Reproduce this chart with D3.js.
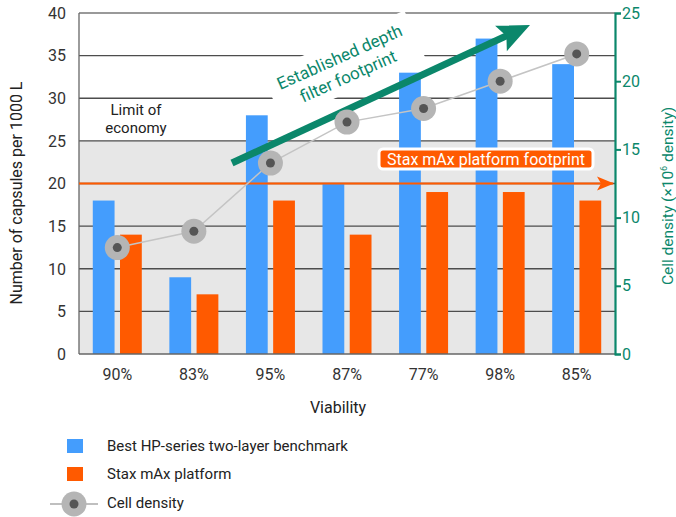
<!DOCTYPE html>
<html>
<head>
<meta charset="utf-8">
<script src="https://cdn.jsdelivr.net/npm/d3@7"></script>
<style>
  body { margin: 0; background: #fff; }
  svg { font-family: Roboto, "Noto Sans", sans-serif; }
</style>
</head>
<body>
<div class="chart"></div>
<script>
// data
var categories = ["90%", "83%", "95%", "87%", "77%", "98%", "85%"];
var benchmark = [18, 9, 28, 20, 33, 37, 34];
var staxMax = [14, 7, 18, 14, 19, 19, 18];
var cellDensity = [7.8, 9, 14, 17, 18, 20, 22];
var leftTicks = [0, 5, 10, 15, 20, 25, 30, 35, 40];
var rightTicks = [0, 5, 10, 15, 20, 25];
var limitOfEconomy = 25;
var staxFootprint = 20;

var colors = { blue: "#449dfd", orange: "#ff5a00", green: "#0b876b", grid: "#4d4d4d" };

var W = 676, H = 517;
var m = { left: 79, right: 615, top: 13, bottom: 354 };
var font = "Roboto, 'Noto Sans', sans-serif";

var svg = d3.select(".chart").append("svg").attr("width", W).attr("height", H);

var x0 = d3.scaleBand().domain(categories).range([m.left, m.right]).paddingInner(0.36).paddingOuter(0.18);
var x1 = d3.scaleBand().domain([0, 1]).range([0, x0.bandwidth()]).paddingInner(0.2);
var y = d3.scaleLinear().domain([0, 40]).range([m.bottom, m.top]);
var y2 = d3.scaleLinear().domain([0, 25]).range([m.bottom, m.top]);

// shaded zone under the limit of economy
svg.append("rect")
  .attr("x", m.left).attr("y", y(limitOfEconomy))
  .attr("width", m.right - m.left).attr("height", y(0) - y(limitOfEconomy))
  .attr("fill", "#e7e7e7");

// gridlines
svg.append("g").selectAll("line").data(leftTicks.slice(1)).enter().append("line")
  .attr("x1", m.left).attr("x2", m.right)
  .attr("y1", d => y(d)).attr("y2", d => y(d))
  .attr("stroke", d => d == 40 ? "#777" : colors.grid).attr("stroke-width", 1.3);

// bars
var groups = svg.append("g").selectAll("g").data(categories).enter().append("g")
  .attr("transform", d => "translate(" + x0(d) + ",0)");
groups.append("rect")
  .attr("x", x1(0)).attr("width", x1.bandwidth())
  .attr("y", (d, i) => y(benchmark[i])).attr("height", (d, i) => y(0) - y(benchmark[i]))
  .attr("fill", colors.blue);
groups.append("rect")
  .attr("x", x1(1)).attr("width", x1.bandwidth())
  .attr("y", (d, i) => y(staxMax[i])).attr("height", (d, i) => y(0) - y(staxMax[i]))
  .attr("fill", colors.orange);

// white box behind the green annotation
var annX = 344, annY = 67, annAngle = -24;
svg.append("rect")
  .attr("x", -78).attr("y", -27).attr("width", 156).attr("height", 52)
  .attr("fill", "#fff")
  .attr("transform", "translate(" + annX + "," + annY + ") rotate(" + annAngle + ")");

// left axis
svg.append("line").attr("x1", m.left).attr("x2", m.left).attr("y1", m.top).attr("y2", m.bottom)
  .attr("stroke", "#666").attr("stroke-width", 1.3);
svg.append("line").attr("x1", m.left).attr("x2", m.right).attr("y1", y(0)).attr("y2", y(0))
  .attr("stroke", "#666").attr("stroke-width", 1.5);
svg.append("g").selectAll("text").data(leftTicks).enter().append("text")
  .attr("x", m.left - 13).attr("y", d => y(d)).attr("dy", "0.36em")
  .attr("text-anchor", "end").attr("font-size", 16).attr("fill", "#333")
  .text(d => d);

// right axis
var rAxis = svg.append("g").attr("transform", "translate(" + m.right + ",0)")
  .call(d3.axisRight(y2).tickValues(rightTicks).tickSize(6).tickPadding(1));
rAxis.select(".domain").attr("stroke", colors.green).attr("stroke-width", 2.2);
rAxis.selectAll(".tick line").attr("stroke", colors.green).attr("stroke-width", 2);
rAxis.selectAll(".tick text").attr("fill", colors.green).attr("font-size", 16)
  .attr("font-family", font);

// x labels
svg.append("g").selectAll("text").data(categories).enter().append("text")
  .attr("x", d => x0(d) + x0.bandwidth() / 2).attr("y", 380)
  .attr("text-anchor", "middle").attr("font-size", 16).attr("fill", "#333")
  .text(d => d);

// axis titles
svg.append("text").attr("x", 338).attr("y", 413).attr("text-anchor", "middle")
  .attr("font-size", 16).attr("fill", "#222").text("Viability");
svg.append("text").attr("transform", "translate(22,193) rotate(-90)").attr("text-anchor", "middle")
  .attr("font-size", 16).attr("fill", "#222").text("Number of capsules per 1000 L");
var rt = svg.append("text").attr("transform", "translate(673,196) rotate(-90)").attr("text-anchor", "middle")
  .attr("font-size", 15.5).attr("fill", colors.green);
rt.append("tspan").text("Cell density (×10");
rt.append("tspan").attr("font-size", 9).attr("dy", -6).text("6");
rt.append("tspan").attr("dy", 6).text(" density)");

// limit of economy label
svg.append("text").attr("x", 136).attr("y", 115).attr("text-anchor", "middle")
  .attr("font-size", 15).attr("fill", "#222").text("Limit of");
svg.append("text").attr("x", 136).attr("y", 133).attr("text-anchor", "middle")
  .attr("font-size", 15).attr("fill", "#222").text("economy");

// stax footprint line with arrow
svg.append("line").attr("x1", m.left).attr("x2", m.right - 2)
  .attr("y1", y(staxFootprint)).attr("y2", y(staxFootprint))
  .attr("stroke", colors.orange).attr("stroke-width", 2);
svg.append("path")
  .attr("d", "M" + (m.right - 1) + "," + y(staxFootprint) + " l-17,-7 l4,7 l-4,7 Z")
  .attr("fill", colors.orange);

// stax footprint label
svg.append("rect").attr("x", 379).attr("y", 149).attr("width", 214).attr("height", 20).attr("rx", 4)
  .attr("fill", colors.orange).attr("stroke", "#fff").attr("stroke-width", 3);
svg.append("text").attr("x", 486).attr("y", 159).attr("dy", "0.36em").attr("text-anchor", "middle")
  .attr("font-size", 16).attr("fill", "#fff").text("Stax mAx platform footprint");

// green trend arrow
var ax1 = 232, ay1 = 163, ax2 = 530, ay2 = 25;
var ang = Math.atan2(ay2 - ay1, ax2 - ax1) * 180 / Math.PI;
var len = Math.hypot(ax2 - ax1, ay2 - ay1);
var ga = svg.append("g").attr("transform", "translate(" + ax1 + "," + ay1 + ") rotate(" + ang + ")");
ga.append("line").attr("x1", 0).attr("x2", len - 22).attr("y1", 0).attr("y2", 0)
  .attr("stroke", colors.green).attr("stroke-width", 7);
ga.append("path").attr("d", "M" + len + ",0 L" + (len - 32) + ",-14 L" + (len - 26) + ",0 L" + (len - 32) + ",14 Z")
  .attr("fill", colors.green);

// green annotation text
var at = svg.append("g").attr("transform", "translate(" + annX + "," + annY + ") rotate(" + annAngle + ")");
at.append("text").attr("x", 0).attr("y", -5).attr("text-anchor", "middle")
  .attr("font-size", 17).attr("fill", colors.green).text("Established depth");
at.append("text").attr("x", 0).attr("y", 16).attr("text-anchor", "middle")
  .attr("font-size", 17).attr("fill", colors.green).text("filter footprint");

// cell density line and markers
var cx = d => x0(d) + x0.bandwidth() / 2;
svg.append("path").datum(categories)
  .attr("d", d3.line().x(cx).y((d, i) => y2(cellDensity[i])))
  .attr("fill", "none").attr("stroke", "#c4c4c4").attr("stroke-width", 1.5);
var pts = svg.append("g").selectAll("g").data(categories).enter().append("g")
  .attr("transform", (d, i) => "translate(" + cx(d) + "," + y2(cellDensity[i]) + ")");
pts.append("circle").attr("r", 12.5).attr("fill", "#b5b5b5");
pts.append("circle").attr("r", 4.5).attr("fill", "#555");

// legend
var lg = svg.append("g");
lg.append("rect").attr("x", 67).attr("y", 439).attr("width", 16).attr("height", 14).attr("fill", colors.blue);
lg.append("text").attr("x", 107).attr("y", 446).attr("dy", "0.36em").attr("font-size", 15).attr("fill", "#222")
  .text("Best HP-series two-layer benchmark");
lg.append("rect").attr("x", 67).attr("y", 467).attr("width", 16).attr("height", 14).attr("fill", colors.orange);
lg.append("text").attr("x", 107).attr("y", 474).attr("dy", "0.36em").attr("font-size", 15).attr("fill", "#222")
  .text("Stax mAx platform");
lg.append("line").attr("x1", 50).attr("x2", 98).attr("y1", 504).attr("y2", 504).attr("stroke", "#aaa").attr("stroke-width", 1.5);
lg.append("circle").attr("cx", 74).attr("cy", 504).attr("r", 12.5).attr("fill", "#b5b5b5");
lg.append("circle").attr("cx", 74).attr("cy", 504).attr("r", 4.5).attr("fill", "#555");
lg.append("text").attr("x", 107).attr("y", 503).attr("dy", "0.36em").attr("font-size", 15).attr("fill", "#222")
  .text("Cell density");
</script>
</body>
</html>
